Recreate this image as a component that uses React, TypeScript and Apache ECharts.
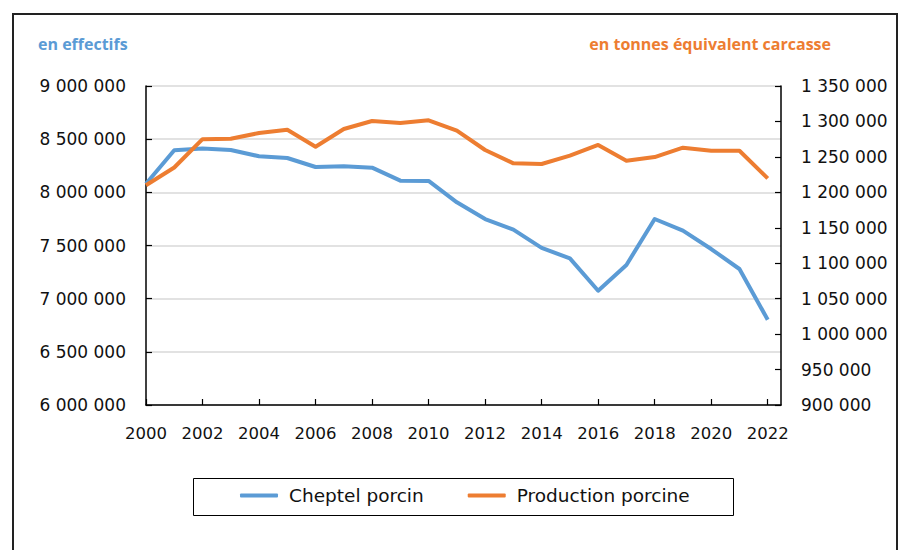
import React, { useEffect, useRef } from "react";
import * as echarts from "echarts";

const years = [2000, 2001, 2002, 2003, 2004, 2005, 2006, 2007, 2008, 2009, 2010, 2011, 2012, 2013, 2014, 2015, 2016, 2017, 2018, 2019, 2020, 2021, 2022];
const cheptel = [8080000, 8395000, 8412000, 8398000, 8339000, 8323000, 8238000, 8245000, 8232000, 8110000, 8107000, 7906000, 7749000, 7649000, 7477000, 7379000, 7075000, 7317000, 7749000, 7640000, 7467000, 7279000, 6802000];
const production = [1210000, 1235000, 1275000, 1275500, 1283700, 1288400, 1264400, 1289300, 1300600, 1297800, 1301600, 1287000, 1259700, 1240900, 1240000, 1251700, 1266800, 1244600, 1249800, 1263000, 1258700, 1258700, 1219700];
const seriesNames = ["Cheptel porcin", "Production porcine"];
const leftTitle = "en effectifs";
const rightTitle = "en tonnes équivalent carcasse";

const BLUE = "#5B9BD5";
const ORANGE = "#ED7D31";
const FONT = "'DejaVu Sans', sans-serif";
const TFONT = "'Open Sans', sans-serif";

const fmt = (v: number) => String(Math.round(v)).replace(/\B(?=(\d{3})+(?!\d))/g, " ");

export default function App() {
  const ref = useRef<HTMLDivElement>(null);
  useEffect(() => {
    if (!ref.current) return;
    const chart = echarts.init(ref.current, undefined, { renderer: "svg" });
    chart.setOption({
      animation: false,
      backgroundColor: "#fff",
      textStyle: { fontFamily: FONT },
      grid: { left: 146, right: 123, top: 86, bottom: 145, containLabel: false },
      graphic: [
        { type: "rect", shape: { x: 13, y: 14, width: 884, height: 560 }, style: { fill: "none", stroke: "#222", lineWidth: 2 }, silent: true },
        { type: "text", x: 38, y: 44, style: { text: leftTitle, fill: BLUE, font: `bold 16px ${TFONT}`, verticalAlign: "middle", align: "left" } },
        { type: "text", x: 831, y: 44, style: { text: rightTitle, fill: ORANGE, font: `bold 16px ${TFONT}`, verticalAlign: "middle", align: "right" } },
        { type: "rect", shape: { x: 193.5, y: 478.5, width: 540, height: 37 }, style: { fill: "none", stroke: "#000", lineWidth: 1 }, silent: true },
      ],
      legend: {
        left: 240,
        top: 486,
        padding: 0,
        itemWidth: 38,
        itemHeight: 4,
        itemGap: 44,
        icon: "roundRect",
        textStyle: { fontFamily: FONT, fontSize: 18.5, color: "#111", padding: [0, 0, 0, 6] },
        data: seriesNames,
      },
      xAxis: {
        type: "value",
        min: 2000,
        max: 2022.47,
        interval: 2,
        axisLine: { show: true, lineStyle: { color: "#000", width: 1.5 } },
        axisTick: { show: true, inside: true, length: 6, lineStyle: { color: "#000", width: 1.2 } },
        splitLine: { show: false },
        axisLabel: {
          color: "#111",
          fontSize: 16.5,
          fontFamily: FONT,
          margin: 20,
          showMaxLabel: false,
          formatter: (v: number) => (Number.isInteger(v) && v % 2 === 0 ? String(v) : ""),
        },
      },
      yAxis: [
        {
          type: "value",
          min: 6000000,
          max: 9000000,
          interval: 500000,
          position: "left",
          axisLine: { show: true, lineStyle: { color: "#000", width: 1.5 } },
          axisTick: { show: true, inside: true, length: 6, lineStyle: { color: "#000", width: 1.2 } },
          splitLine: { show: true, lineStyle: { color: "#d9d9d9", width: 1.5 } },
          axisLabel: { color: "#111", fontSize: 17, fontFamily: FONT, margin: 20, formatter: fmt },
        },
        {
          type: "value",
          min: 900000,
          max: 1350000,
          interval: 50000,
          position: "right",
          axisLine: { show: true, lineStyle: { color: "#000", width: 1.5 } },
          axisTick: { show: true, inside: true, length: 6, lineStyle: { color: "#000", width: 1.2 } },
          splitLine: { show: false },
          axisLabel: { color: "#111", fontSize: 17, fontFamily: FONT, margin: 20, formatter: fmt },
        },
      ],
      series: [
        {
          name: seriesNames[0],
          type: "line",
          yAxisIndex: 0,
          showSymbol: false,
          symbol: "none",
          color: BLUE,
          lineStyle: { width: 4, color: BLUE, join: "round" },
          data: years.map((y, i) => [y, cheptel[i]]),
        },
        {
          name: seriesNames[1],
          type: "line",
          yAxisIndex: 1,
          showSymbol: false,
          symbol: "none",
          color: ORANGE,
          lineStyle: { width: 4, color: ORANGE, join: "round" },
          data: years.map((y, i) => [y, production[i]]),
        },
      ],
    });
    return () => chart.dispose();
  }, []);
  return <div ref={ref} style={{ width: 904, height: 550, position: "absolute", left: 0, top: 0 }} />;
}
